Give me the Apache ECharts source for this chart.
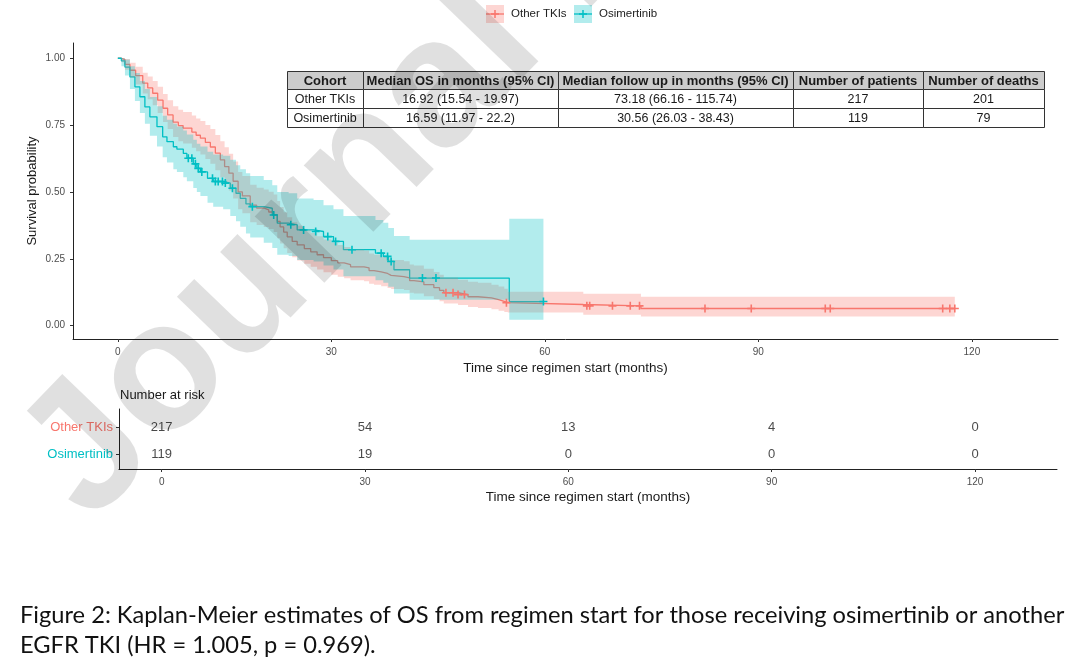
<!DOCTYPE html>
<html><head><meta charset="utf-8">
<script src="https://cdn.jsdelivr.net/npm/echarts@6/dist/echarts.min.js"></script>
<style>html,body{margin:0;padding:0;background:#fff}#c{width:1080px;height:672px}</style>
</head><body><div id="c"></div>
<script>
// ---- data ----
const otherTime  = [0,0.5,1.0,1.7,2.5,3.5,4.2,4.9,5.6,6.35,7.0,7.76,8.5,9.17,10.4,11.0,11.6,12.3,13.0,13.7,14.4,15.0,15.6,16.2,16.9,17.5,18.6,19.5,20.5,21.2,21.9,22.4,22.8,23.3,23.8,24.5,25.2,26.2,27.1,28.0,28.9,30.0,30.9,31.8,32.7,34.6,35.3,36.0,37.0,37.9,38.4,40.2,41.0,41.6,43.0,44.4,45.2,45.8,47.8,49.2,50.6,52.5,53.5,54.3,54.8,65.4,73.5,117.6];
const otherSurv  = [1,0.995,0.977,0.955,0.935,0.907,0.889,0.869,0.843,0.813,0.788,0.761,0.748,0.739,0.724,0.712,0.701,0.685,0.668,0.645,0.620,0.595,0.570,0.540,0.500,0.485,0.451,0.440,0.433,0.425,0.414,0.390,0.369,0.350,0.332,0.315,0.302,0.288,0.276,0.265,0.254,0.243,0.235,0.228,0.220,0.216,0.206,0.201,0.195,0.188,0.183,0.179,0.168,0.164,0.153,0.142,0.132,0.123,0.116,0.108,0.104,0.097,0.091,0.086,0.079,0.074,0.064,0.064];
const otherLower = [1,0.985,0.957,0.928,0.902,0.868,0.847,0.824,0.795,0.762,0.735,0.705,0.69,0.681,0.665,0.652,0.64,0.623,0.605,0.581,0.555,0.53,0.505,0.475,0.435,0.42,0.387,0.376,0.369,0.361,0.35,0.327,0.307,0.289,0.272,0.256,0.244,0.231,0.22,0.21,0.2,0.19,0.183,0.177,0.17,0.166,0.157,0.153,0.147,0.141,0.137,0.133,0.123,0.12,0.11,0.1,0.091,0.083,0.077,0.07,0.066,0.061,0.056,0.051,0.049,0.041,0.034,0.034];
const otherUpper = [1,1.0,0.997,0.983,0.968,0.946,0.932,0.915,0.893,0.866,0.843,0.82,0.807,0.799,0.786,0.775,0.765,0.75,0.735,0.713,0.69,0.667,0.643,0.614,0.575,0.56,0.527,0.516,0.509,0.501,0.49,0.466,0.444,0.424,0.405,0.387,0.374,0.359,0.346,0.334,0.322,0.311,0.302,0.294,0.285,0.281,0.27,0.265,0.258,0.251,0.245,0.241,0.229,0.225,0.213,0.201,0.19,0.18,0.172,0.164,0.16,0.153,0.146,0.138,0.127,0.119,0.108,0.108];
const otherCensor = [46.1,47.1,47.8,48.7,54.6,65.9,66.3,69.5,72.0,73.3,82.5,89.0,99.4,100.1,115.9,116.9,117.6];

const osiTime  = [0,0.5,1.0,1.7,2.4,3.1,3.8,4.5,5.5,6.3,6.9,7.8,8.3,9.2,9.7,10.6,11.1,11.6,12.6,13.4,14.8,15.8,16.6,17.2,18.0,18.6,20.5,21.7,22.4,24.0,25.2,27.5,28.9,30.3,31.7,36.2,37.3,38.0,38.8,41.0,55.0,59.8];
const osiSurv  = [1,0.99,0.967,0.93,0.893,0.856,0.818,0.781,0.744,0.706,0.688,0.669,0.66,0.644,0.626,0.605,0.588,0.575,0.551,0.539,0.533,0.514,0.495,0.476,0.455,0.445,0.439,0.414,0.383,0.377,0.358,0.352,0.333,0.315,0.284,0.271,0.259,0.240,0.209,0.178,0.090,0.090];
const osiLower = [1,0.97,0.935,0.885,0.84,0.795,0.755,0.71,0.67,0.63,0.61,0.585,0.575,0.555,0.54,0.515,0.50,0.485,0.46,0.445,0.435,0.41,0.39,0.37,0.345,0.33,0.31,0.29,0.265,0.26,0.245,0.24,0.225,0.21,0.185,0.17,0.16,0.145,0.12,0.097,0.022,0.022];
const osiUpper = [1,1.0,0.995,0.97,0.945,0.915,0.885,0.855,0.82,0.785,0.77,0.755,0.745,0.73,0.715,0.695,0.68,0.67,0.65,0.64,0.635,0.62,0.60,0.585,0.57,0.56,0.545,0.525,0.50,0.495,0.475,0.47,0.45,0.435,0.41,0.395,0.385,0.365,0.335,0.321,0.40,0.40];
const osiCensor = [9.9,10.4,10.9,11.3,11.8,13.3,13.7,14.1,14.7,15.1,16.1,18.9,21.9,24.3,26.1,27.8,29.5,30.6,32.9,37.0,37.9,38.4,42.8,44.7,59.8];

const xTicks = [0,30,60,90,120];
const yTicks = [0,0.25,0.5,0.75,1];
const riskTimes = [0,30,60,90,120];
const riskOther = [217,54,13,4,0];
const riskOsi   = [119,19,0,0,0];
const groupNames = ['Other TKIs','Osimertinib'];

const tableHeader = ['Cohort','Median OS in months (95% CI)','Median follow up in months (95% CI)','Number of patients','Number of deaths'];
const tableRow1 = ['Other TKIs','16.92 (15.54 - 19.97)','73.18 (66.16 - 115.74)','217','201'];
const tableRow2 = ['Osimertinib','16.59 (11.97 - 22.2)','30.56 (26.03 - 38.43)','119','79'];

const captionLine1 = 'Figure 2: Kaplan-Meier estimates of OS from regimen start for those receiving osimertinib or another';
const captionLine2 = 'EGFR TKI (HR = 1.005, p = 0.969).';
const watermark = 'Journal Pre-proof';

// ---- helpers ----
const FONT = "'Liberation Sans', Arial, Helvetica, sans-serif";
const RED = '#F8766D', TEAL = '#00BFC4';
const RED_FILL = 'rgba(248,118,109,0.3)', TEAL_FILL = 'rgba(0,191,196,0.3)';
const pairs = (t, v) => t.map((x, i) => [x, v[i]]);
function survAt(t, times, surv) { let k = 0; for (let i = 0; i < times.length; i++) if (times[i] <= t) k = i; return surv[k]; }
const PLUS = 'path://M4,0h2v4h4v2h-4v4h-2v-4h-4v-2h4z';
function fitFont(text, family, target) {
  const c = document.createElement('canvas').getContext('2d');
  c.font = '100px ' + family; return 100 * target / c.measureText(text).width;
}
// confidence band as one stepped polygon, positioned through the axis scales
function bandSeries(times, lower, upper, fill) {
  return {
    type: 'custom', xAxisIndex: 0, yAxisIndex: 0, z: 3, silent: true, clip: true,
    data: [[times[0], upper[0]]],
    renderItem: function (params, api) {
      const top = [], bot = [];
      for (let i = 0; i < times.length - 1; i++) {
        top.push(api.coord([times[i], upper[i]]), api.coord([times[i + 1], upper[i]]));
        bot.push(api.coord([times[i], lower[i]]), api.coord([times[i + 1], lower[i]]));
      }
      const pts = top.concat(bot.reverse());
      return {type: 'polygon', shape: {points: pts}, style: {fill: fill}};
    }
  };
}

const chart = echarts.init(document.getElementById('c'), null, {renderer: 'canvas'});

// ---- table graphics ----
const colX = [287, 363, 558, 793, 923, 1044];
const rowY = [71, 89, 108, 127];
const tableRows = [tableHeader, tableRow1, tableRow2];
const graphics = [];
tableRows.forEach((row, r) => {
  row.forEach((txt, c) => {
    graphics.push({type: 'rect', shape: {x: colX[c] + 0.5, y: rowY[r] + 0.5, width: colX[c + 1] - colX[c], height: rowY[r + 1] - rowY[r]},
      style: {fill: r === 0 ? '#cccccc' : '#ffffff', stroke: '#333', lineWidth: 1}, z: 10});
    graphics.push({type: 'text', x: (colX[c] + colX[c + 1]) / 2, y: (rowY[r] + rowY[r + 1]) / 2 + 1,
      style: {text: txt, font: (r === 0 ? 'bold 13px ' : '12.5px ') + FONT, fill: '#1a1a1a', textAlign: 'center', textVerticalAlign: 'middle', align: 'center', verticalAlign: 'middle'}, z: 11});
  });
});

// ---- legend graphics ----
function legendItem(x0, name, line, fill) {
  graphics.push({type: 'rect', shape: {x: x0, y: 5, width: 18, height: 18}, style: {fill: fill}, z: 10});
  graphics.push({type: 'line', shape: {x1: x0, y1: 14, x2: x0 + 18, y2: 14}, style: {stroke: line, lineWidth: 1.3}, z: 11});
  graphics.push({type: 'line', shape: {x1: x0 + 9, y1: 10, x2: x0 + 9, y2: 18}, style: {stroke: line, lineWidth: 1.5}, z: 11});
  graphics.push({type: 'line', shape: {x1: x0 + 5, y1: 14, x2: x0 + 13, y2: 14}, style: {stroke: line, lineWidth: 1.5}, z: 11});
  graphics.push({type: 'text', x: x0 + 25, y: 14, style: {text: name, font: '11.5px ' + FONT, fill: '#222', textAlign: 'left', textVerticalAlign: 'middle', align: 'left', verticalAlign: 'middle'}, z: 11});
}
legendItem(486, groupNames[0], RED, RED_FILL);
legendItem(574, groupNames[1], TEAL, TEAL_FILL);

// ---- risk table title ----
graphics.push({type: 'text', x: 120, y: 395, style: {text: 'Number at risk', font: '13px ' + FONT, fill: '#1a1a1a', textAlign: 'left', textVerticalAlign: 'middle', align: 'left', verticalAlign: 'middle'}, z: 11});

// ---- caption ----
const capFamily = "Lato, 'Open Sans', sans-serif";
const capSize = fitFont(captionLine1, capFamily, 1045);
graphics.push({type: 'text', x: 20, y: 615, style: {text: captionLine1, font: capSize.toFixed(2) + 'px ' + capFamily, fill: '#111', textAlign: 'left', textVerticalAlign: 'middle', align: 'left', verticalAlign: 'middle'}, z: 11});
graphics.push({type: 'text', x: 20, y: 645, style: {text: captionLine2, font: capSize.toFixed(2) + 'px ' + capFamily, fill: '#111', textAlign: 'left', textVerticalAlign: 'middle', align: 'left', verticalAlign: 'middle'}, z: 11});

// ---- watermark ----
graphics.push({type: 'text', x: 120, y: 553, rotation: 46 * Math.PI / 180,
  style: {text: watermark, font: 'bold 182px ' + FONT, fill: 'rgba(0,0,0,0.12)', textAlign: 'left', textVerticalAlign: 'bottom', align: 'left', verticalAlign: 'bottom'}, z: 100, silent: true});

const axisLineStyle = {show: true, onZero: false, lineStyle: {color: '#222', width: 1}};
const tickStyle = {length: 3, lineStyle: {color: '#333', width: 1}};

const option = {
  animation: false,
  backgroundColor: '#fff',
  grid: [
    {left: 73, right: 22, top: 43, bottom: 333},
    {left: 119, right: 23, top: 409, bottom: 203}
  ],
  xAxis: [
    {type: 'value', gridIndex: 0, min: -6.3, max: 132.1, axisLine: axisLineStyle, splitLine: {show: false},
      axisTick: Object.assign({show: true, customValues: xTicks}, tickStyle),
      axisLabel: {customValues: xTicks, fontSize: 10, color: '#4d4d4d', fontFamily: FONT, margin: 8},
      name: 'Time since regimen start (months)', nameLocation: 'middle', nameGap: 22,
      nameTextStyle: {fontSize: 13.5, color: '#1a1a1a', fontFamily: FONT}},
    {type: 'value', gridIndex: 1, min: -6.3, max: 132.1, axisLine: axisLineStyle, splitLine: {show: false},
      axisTick: Object.assign({show: true, customValues: riskTimes}, tickStyle),
      axisLabel: {customValues: riskTimes, fontSize: 10, color: '#4d4d4d', fontFamily: FONT, margin: 8},
      name: 'Time since regimen start (months)', nameLocation: 'middle', nameGap: 21,
      nameTextStyle: {fontSize: 13.5, color: '#1a1a1a', fontFamily: FONT}}
  ],
  yAxis: [
    {type: 'value', gridIndex: 0, min: -0.05, max: 1.057, axisLine: axisLineStyle, splitLine: {show: false},
      axisTick: Object.assign({show: true, customValues: yTicks}, tickStyle),
      axisLabel: {customValues: yTicks, fontSize: 10, color: '#4d4d4d', fontFamily: FONT, margin: 8, formatter: v => Number(v).toFixed(2)},
      name: 'Survival probability', nameLocation: 'middle', nameGap: 34, nameMoveOverlap: false,
      nameTextStyle: {fontSize: 13, color: '#1a1a1a', fontFamily: FONT}},
    {type: 'value', gridIndex: 1, min: 0.444, max: 2.667, axisLine: axisLineStyle, splitLine: {show: false},
      axisTick: Object.assign({show: true, customValues: [1, 2]}, tickStyle),
      axisLabel: {customValues: [1, 2], margin: 6,
        formatter: v => Number(v) > 1.5 ? '{a|' + groupNames[0] + '}' : '{b|' + groupNames[1] + '}',
        rich: {a: {color: RED, fontSize: 13, fontFamily: FONT}, b: {color: TEAL, fontSize: 13, fontFamily: FONT}}}}
  ],
  series: [
    {type: 'line', xAxisIndex: 0, yAxisIndex: 0, data: pairs(otherTime, otherSurv), step: 'end', symbol: 'none', lineStyle: {color: RED, width: 1.3}, z: 2, silent: true},
    {type: 'line', xAxisIndex: 0, yAxisIndex: 0, data: pairs(osiTime, osiSurv), step: 'end', symbol: 'none', lineStyle: {color: TEAL, width: 1.3}, z: 2, silent: true},
    bandSeries(otherTime, otherLower, otherUpper, RED_FILL),
    bandSeries(osiTime, osiLower, osiUpper, TEAL_FILL),
    {type: 'scatter', xAxisIndex: 0, yAxisIndex: 0, data: otherCensor.map(t => [t, survAt(t, otherTime, otherSurv)]), symbol: PLUS, symbolSize: 8, itemStyle: {color: RED, opacity: 1}, z: 4, silent: true},
    {type: 'scatter', xAxisIndex: 0, yAxisIndex: 0, data: osiCensor.map(t => [t, survAt(t, osiTime, osiSurv)]), symbol: PLUS, symbolSize: 8, itemStyle: {color: TEAL, opacity: 1}, z: 4, silent: true},
    {type: 'scatter', xAxisIndex: 1, yAxisIndex: 1, symbolSize: 0, silent: true,
      data: riskTimes.map((t, i) => [t, 2, riskOther[i]]).concat(riskTimes.map((t, i) => [t, 1, riskOsi[i]])),
      label: {show: true, position: 'inside', formatter: p => String(p.data[2]), fontSize: 13, color: '#1a1a1a', fontFamily: FONT}}
  ],
  graphic: {elements: graphics}
};
chart.setOption(option);
</script></body></html>
